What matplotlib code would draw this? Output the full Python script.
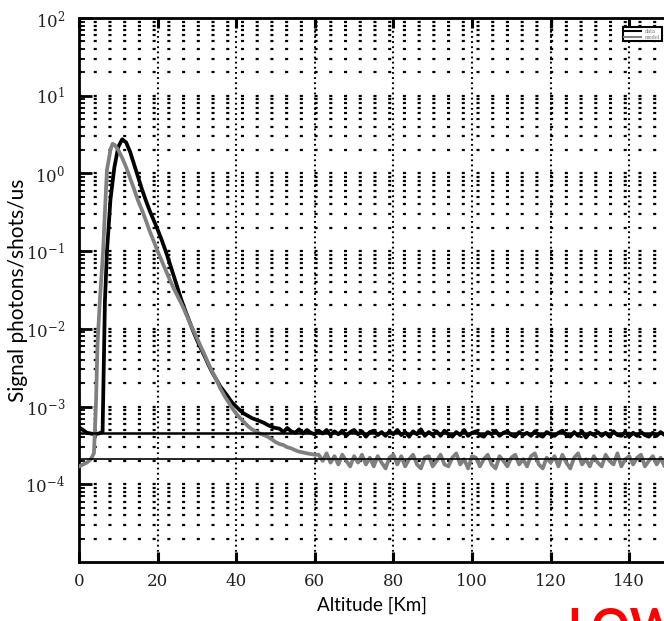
import matplotlib
matplotlib.use("Agg")
import matplotlib.pyplot as plt
from matplotlib.lines import Line2D

plt.rcParams['font.family'] = ['DejaVu Serif']
plt.rcParams['mathtext.fontset'] = 'dejavuserif'
plt.rcParams['lines.scale_dashes'] = False

# black profile (altitude km, photons/shot/us)
black_alt = [0, 1, 2, 3, 4, 5, 6, 6.3, 6.6, 7.1, 8, 9, 10, 11, 12, 13, 14, 15, 16, 17, 18, 19,
             20, 21, 22, 23, 24, 25, 26, 27, 28, 29, 30, 31, 32, 33, 34, 35, 36, 37, 38, 39,
             40, 41, 42, 43, 44, 45, 46, 47, 48, 49, 50]
black_sig = [5.4e-4, 5.0e-4, 4.6e-4, 4.5e-4, 4.4e-4, 4.5e-4, 4.7e-4, 3.2e-3, 2.3e-2, 9.5e-2,
             0.46, 1.2, 2.2, 2.75, 2.5, 1.9, 1.32, 0.91, 0.63, 0.45, 0.33, 0.25,
             0.19, 0.141, 0.102, 0.072, 0.050, 0.035, 0.024, 0.0174, 0.0129, 0.0095,
             0.0072, 0.0056, 0.0044, 0.0034, 0.0027, 0.0022, 0.0018, 0.00155, 0.00132, 0.00112,
             0.0010, 0.00089, 0.00081, 0.00076, 0.00071, 0.00068, 0.00065, 0.00062, 0.00058,
             0.00055, 0.00053]
# black background, 51..150 km, in units of 1e-4
black_floor = [5.2, 4.7, 5.3, 4.8, 4.6, 5.1, 4.5, 5.0, 4.6, 4.4,
               4.9, 4.5, 5.0, 4.3, 4.8, 4.4, 4.9, 4.2, 4.7, 5.0,
               4.4, 4.8, 4.1, 4.7, 4.9, 4.3, 4.7, 4.2, 4.8, 4.4,
               5.0, 4.3, 4.7, 4.1, 4.8, 4.4, 5.1, 4.2, 4.7, 4.3,
               4.8, 4.2, 4.9, 4.4, 4.1, 4.7, 4.3, 5.0, 4.2, 4.6,
               4.8, 4.3, 4.1, 4.7, 4.4, 4.9, 4.2, 4.6, 4.8, 4.3,
               4.1, 4.7, 4.3, 4.6, 4.2, 4.8, 4.3, 4.1, 4.7, 4.4,
               4.2, 4.6, 4.9, 4.3, 4.1, 4.7, 4.2, 4.8, 4.0, 4.6,
               4.3, 4.7, 4.2, 4.6, 4.1, 4.8, 4.3, 4.2, 4.7, 4.1,
               4.6, 4.2, 4.7, 4.3, 4.1, 4.6, 4.2, 4.7, 4.3, 4.2]

# gray profile
gray_alt = [0, 1, 2, 3, 3.8, 4.3, 4.7, 5.3, 6.1, 7.1, 8, 8.5, 9, 10, 11, 12, 13, 14, 15, 16,
            17, 18, 19, 20, 21, 22, 23, 24, 25, 26, 27, 28, 29, 30, 31, 32, 33, 34, 35, 36,
            37, 38, 39, 40, 41, 42, 43, 44, 45, 46, 47, 48, 49, 50, 51, 52, 53, 54, 55, 56,
            57, 58, 59, 60]
gray_sig = [1.7e-4, 1.8e-4, 1.9e-4, 2.1e-4, 2.5e-4, 1.0e-3, 6.3e-3, 2.3e-2, 9.5e-2, 1.1,
            2.0, 2.4, 2.35, 2.0, 1.58, 1.2, 0.87, 0.63, 0.45, 0.34,
            0.25, 0.18, 0.135, 0.10, 0.076, 0.058, 0.044, 0.034, 0.027, 0.0214,
            0.0166, 0.0126, 0.0098, 0.0076, 0.0059, 0.0046, 0.0035, 0.00275, 0.0022, 0.0017,
            0.00138, 0.00115, 0.00095, 0.00081, 0.00071, 0.00063, 0.00056, 0.00051, 0.00048,
            0.00045, 0.00043, 0.00041, 0.00038, 0.00035, 0.00033, 0.00032, 0.00030, 0.00029,
            0.000275, 0.000263, 0.000257, 0.00025, 0.000245, 0.00024]
# gray background, 61..150 km, in units of 1e-4
gray_floor = [2.4, 2.0, 2.5, 1.9, 2.3, 1.8, 2.4, 2.0, 1.7, 2.3,
              1.9, 2.4, 1.8, 2.2, 1.7, 2.3, 1.9, 1.6, 2.2, 2.4,
              1.8, 2.3, 1.7, 2.1, 2.4, 1.8, 1.6, 2.2, 2.3, 1.7,
              2.0, 2.4, 1.8, 1.7, 2.2, 2.5, 1.8, 2.1, 1.6, 2.3,
              2.2, 1.7, 2.1, 2.4, 1.8, 1.6, 2.3, 2.0, 1.7, 2.2,
              2.4, 1.8, 2.1, 1.7, 2.3, 2.5, 1.8, 1.6, 2.2, 1.9,
              2.3, 1.7, 2.4, 1.9, 1.6, 2.2, 2.5, 1.8, 2.1, 1.7,
              2.3, 1.9, 1.7, 2.4, 2.0, 1.8, 2.5, 1.7, 2.1, 2.3,
              1.8, 2.2, 2.4, 1.7, 2.0, 2.3, 1.8, 2.2, 1.7, 2.0]

ref_levels = [4.57e-4, 2.1e-4]
legend_labels = ['data', 'model']
x_ticks = [0, 20, 40, 60, 80, 100, 120, 140]
y_ticks = [1e-4, 1e-3, 1e-2, 1e-1, 1e0, 1e1, 1e2]

bx = black_alt + list(range(51, 151))
by = black_sig + [v * 1e-4 for v in black_floor]
gx = gray_alt + list(range(61, 151))
gy = gray_sig + [v * 1e-4 for v in gray_floor]

fig = plt.figure(figsize=(6.64, 6.21), dpi=100)
ax = fig.add_axes([79 / 664, 1 - 562 / 621, 589.5 / 664, 544 / 621])
ax.set_yscale('log')
ax.set_xlim(0, 150)
ax.set_ylim(1e-5, 1e2)
ax.set_yticks(y_ticks)

ax.yaxis.grid(True, which='both', color='black', linewidth=1.6, linestyle=(0, (2.2, 8.4)))
ax.xaxis.grid(True, which='major', color='black', linewidth=1.5, linestyle=(0, (1.3, 2.4)))
ax.set_axisbelow(True)

ax.plot(bx, by, color='black', lw=2.7, zorder=3)
ax.plot(gx, gy, color='#808080', lw=2.7, zorder=4)
ax.axhline(ref_levels[0], color='black', lw=1.8, zorder=5)
ax.axhline(ref_levels[1], color='black', lw=1.2, zorder=5)

ax.set_xticks(x_ticks)
ax.tick_params(axis='x', which='major', direction='in', length=7, width=2.2, top=True,
               pad=8, labelsize=12, labelcolor='#222222')
ax.tick_params(axis='y', which='major', direction='in', length=9, width=2, pad=10,
               labelsize=12, labelcolor='#222222')
ax.tick_params(axis='y', which='minor', direction='in', length=4, width=1.3)
for s in ax.spines.values():
    s.set_linewidth(2)

handles = [Line2D([], [], color='black', lw=1.5), Line2D([], [], color='#808080', lw=1.5)]
leg = ax.legend(handles, legend_labels, loc='upper right', bbox_to_anchor=(0.989, 0.983),
                fontsize=3.5, frameon=True, fancybox=False, framealpha=1, edgecolor='black',
                borderpad=0.3, handlelength=3.5, labelspacing=0.2, borderaxespad=0)
leg.get_frame().set_linewidth(1.5)
for t in leg.get_texts():
    t.set_color('#777777')

fig.text(18 / 664, 1 - 290 / 621, 'Signal photons/shots/us', rotation=90, ha='center',
         va='center', family='Lato', fontsize=15)
fig.text(372 / 664, 1 - 605 / 621, 'Altitude [Km]', ha='center', va='center',
         family='Lato', fontsize=13.5)
fig.text(567 / 664, 1 - 607 / 621, 'LOW', color='red', fontweight='bold', family='Lato',
         fontsize=34, va='top')

fig.savefig('out.png', dpi=100)
